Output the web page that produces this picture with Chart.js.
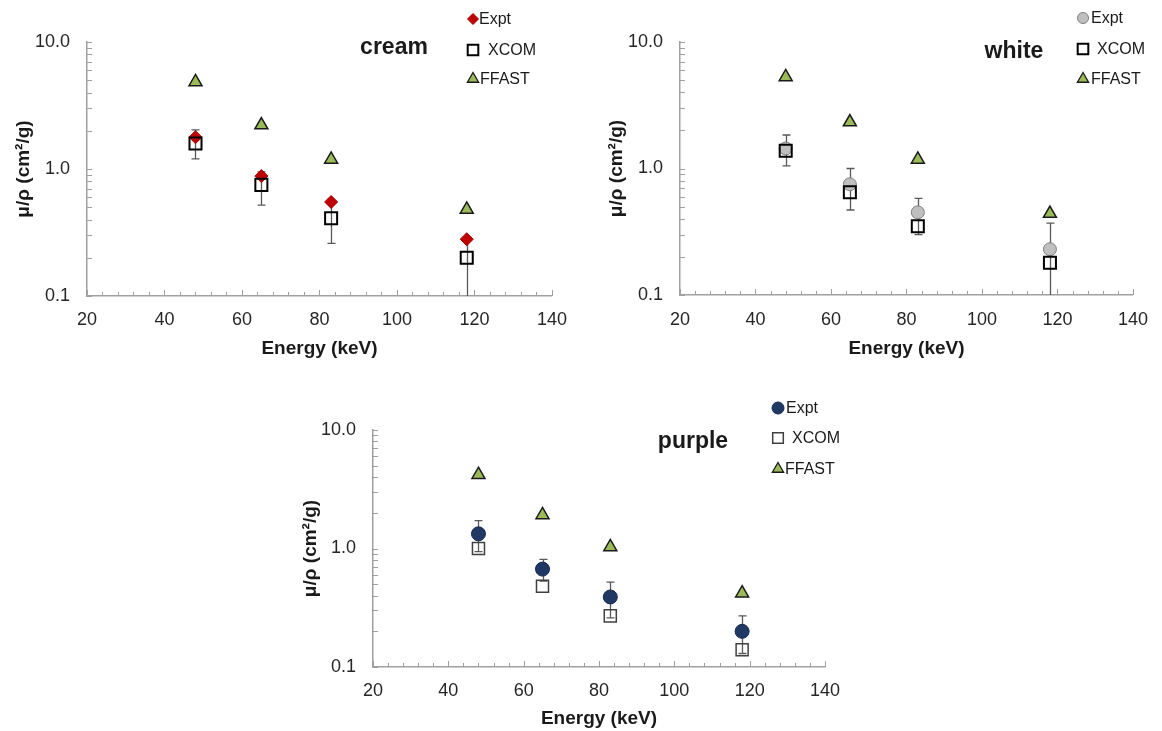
<!DOCTYPE html>
<html>
<head>
<meta charset="utf-8">
<script src="https://cdn.jsdelivr.net/npm/chart.js@4.4.0/dist/chart.umd.min.js"></script>
<style>
body { margin: 0; background: #fff; }
#page { position: relative; width: 1162px; height: 731px; overflow: hidden; }
canvas { position: absolute; }
</style>
</head>
<body>
<div id="page">
  <canvas id="creamChart" width="580" height="370" style="left:0px;top:0px"></canvas>
  <canvas id="whiteChart" width="582" height="370" style="left:580px;top:0px"></canvas>
  <canvas id="purpleChart" width="580" height="356" style="left:290px;top:375px"></canvas>
</div>
<script>
// photon energies (keV), same for the three samples
var energies = [48, 65, 83, 118];
var xTickValues = [20, 40, 60, 80, 100, 120, 140];
var xMinorValues = [24, 28, 32, 36, 44, 48, 52, 56, 64, 68, 72, 76, 84, 88, 92, 96, 104, 108, 112, 116, 124, 128, 132, 136];
var yTickValues = [0.1, 1, 10];
var yMinorValues = [0.2, 0.3, 0.4, 0.5, 0.6, 0.7, 0.8, 0.9, 2, 3, 4, 5, 6, 7, 8, 9];
var seriesNames = ["Expt", "XCOM", "FFAST"];

// cream
var creamExpt = [1.78, 0.88, 0.55, 0.28];
var creamXcom = [1.59, 0.75, 0.41, 0.20];
var creamFfast = [4.85, 2.22, 1.19, 0.48];
var creamErrTop = [2.03, 0.95, 0.56, 0.29];
var creamErrBottom = [1.20, 0.52, 0.26, 0.09];

// white
var whiteExpt = [1.44, 0.75, 0.45, 0.23];
var whiteXcom = [1.38, 0.65, 0.35, 0.18];
var whiteFfast = [5.3, 2.33, 1.18, 0.44];
var whiteErrTop = [1.84, 1.00, 0.58, 0.37];
var whiteErrBottom = [1.05, 0.47, 0.30, 0.09];

// purple
var purpleExpt = [1.33, 0.67, 0.39, 0.20];
var purpleXcom = [1.00, 0.48, 0.27, 0.14];
var purpleFfast = [4.2, 1.92, 1.03, 0.42];
var purpleErrTop = [1.72, 0.81, 0.52, 0.27];
var purpleErrBottom = [0.94, 0.53, 0.26, 0.13];

var fontFamily = "'Liberation Sans', Arial, sans-serif";
Chart.defaults.font.family = fontFamily;

function drawMarker(ctx, style, x, y, r, fill, stroke, lw) {
    ctx.beginPath();
    if (style == "circle") {
        ctx.arc(x, y, r, 0, Math.PI * 2);
    } else if (style == "rect") {
        var s = r * Math.SQRT1_2;
        ctx.rect(x - s, y - s, 2 * s, 2 * s);
    } else if (style == "rectRot") {
        ctx.moveTo(x - r, y);
        ctx.lineTo(x, y - r);
        ctx.lineTo(x + r, y);
        ctx.lineTo(x, y + r);
        ctx.closePath();
    } else {
        ctx.moveTo(x, y - r);
        ctx.lineTo(x + Math.sin(Math.PI * 2 / 3) * r, y + r / 2);
        ctx.lineTo(x - Math.sin(Math.PI * 2 / 3) * r, y + r / 2);
        ctx.closePath();
    }
    ctx.fillStyle = fill;
    ctx.fill();
    if (lw) {
        ctx.lineWidth = lw;
        ctx.strokeStyle = stroke;
        ctx.stroke();
    }
}

function makeChart(canvasId, sample, expt, xcom, ffast, errTop, errBottom, look) {
    var exptPoints = [], xcomPoints = [], ffastPoints = [];
    for (var i = 0; i < energies.length; i++) {
        exptPoints.push({x: energies[i], y: expt[i]});
        xcomPoints.push({x: energies[i], y: xcom[i]});
        ffastPoints.push({x: energies[i], y: ffast[i]});
    }

    var markers = [
        {style: look.exptStyle, r: look.exptLegendR, fill: look.exptFill, stroke: look.exptBorder, lw: 1},
        {style: "rect", r: 7.5, fill: "rgba(255,255,255,0)", stroke: look.xcomBorder, lw: look.xcomWidth},
        {style: "triangle", r: 6.5, fill: "#9bbb59", stroke: "#1a1a1a", lw: 1.3}
    ];

    var extras = {
        id: "extras",
        beforeDatasetsDraw: function (chart) {
            var ctx = chart.ctx;
            var area = chart.chartArea;
            var xs = chart.scales.x, ys = chart.scales.y;
            ctx.save();
            // inner tick marks
            ctx.strokeStyle = "#a0a0a0";
            ctx.lineWidth = 1;
            ctx.beginPath();
            yMinorValues.concat(yTickValues).forEach(function (v) {
                var py = Math.round(ys.getPixelForValue(v)) + 0.5;
                ctx.moveTo(area.left, py);
                ctx.lineTo(area.left + 5, py);
            });
            xMinorValues.forEach(function (v) {
                var px = Math.round(xs.getPixelForValue(v)) + 0.5;
                ctx.moveTo(px, area.bottom);
                ctx.lineTo(px, area.bottom - 4);
            });
            xTickValues.forEach(function (v) {
                var px = Math.round(xs.getPixelForValue(v)) + 0.5;
                ctx.moveTo(px, area.bottom);
                ctx.lineTo(px, area.bottom - 6);
            });
            ctx.stroke();

            // error bars
            ctx.beginPath();
            ctx.rect(area.left, area.top, area.right - area.left, area.bottom - area.top);
            ctx.clip();
            ctx.strokeStyle = "#595959";
            ctx.lineWidth = 1.3;
            ctx.beginPath();
            for (var i = 0; i < energies.length; i++) {
                var px = Math.round(xs.getPixelForValue(energies[i])) + 0.5;
                var top = ys.getPixelForValue(errTop[i]);
                var low = errBottom[i] < ys.min ? area.bottom + 2 : ys.getPixelForValue(errBottom[i]);
                ctx.moveTo(px, top);
                ctx.lineTo(px, low);
                ctx.moveTo(px - 4, top);
                ctx.lineTo(px + 4, top);
                if (errBottom[i] >= ys.min) {
                    ctx.moveTo(px - 4, low);
                    ctx.lineTo(px + 4, low);
                }
            }
            ctx.stroke();
            ctx.restore();
        },
        afterDraw: function (chart) {
            var ctx = chart.ctx;
            ctx.save();
            ctx.fillStyle = "#1a1a1a";
            ctx.font = "bold 23px " + fontFamily;
            ctx.textAlign = "center";
            ctx.textBaseline = "middle";
            ctx.fillText(sample, look.titleX, look.titleY);

            ctx.font = "16px " + fontFamily;
            ctx.textAlign = "left";
            for (var k = 0; k < seriesNames.length; k++) {
                var m = markers[k];
                drawMarker(ctx, m.style, look.legendX, look.legendY[k], m.r, m.fill, m.stroke, m.lw);
                ctx.fillStyle = "#1a1a1a";
                ctx.fillText(seriesNames[k], look.legendTextX[k], look.legendY[k] + 1);
            }
            ctx.restore();
        }
    };

    new Chart(document.getElementById(canvasId), {
        type: "scatter",
        data: {
            datasets: [{
                label: "Expt",
                data: exptPoints,
                pointStyle: look.exptStyle,
                pointRadius: look.exptR,
                backgroundColor: look.exptFill,
                borderColor: look.exptBorder,
                borderWidth: 1,
                order: 1
            }, {
                label: "XCOM",
                data: xcomPoints,
                pointStyle: "rect",
                pointRadius: 8.5,
                backgroundColor: "rgba(255,255,255,0)",
                borderColor: look.xcomBorder,
                borderWidth: look.xcomWidth,
                order: 0
            }, {
                label: "FFAST",
                data: ffastPoints,
                pointStyle: "triangle",
                pointRadius: 7.5,
                backgroundColor: "#9bbb59",
                borderColor: "#1a1a1a",
                borderWidth: 1.5,
                order: 2
            }]
        },
        options: {
            responsive: false,
            animation: false,
            layout: {padding: look.padding},
            plugins: {legend: {display: false}, tooltip: {enabled: false}},
            scales: {
                x: {
                    type: "linear",
                    min: 20,
                    max: 140,
                    afterBuildTicks: function (s) {
                        s.ticks = xTickValues.map(function (v) { return {value: v}; });
                    },
                    afterFit: function (s) { s.height = look.xHeight; },
                    grid: {display: false, drawTicks: false},
                    border: {display: true, color: "#a0a0a0", width: 1.5},
                    ticks: {padding: look.xTickPad, font: {size: 18}, color: "#262626", maxRotation: 0},
                    title: {
                        display: true,
                        text: "Energy (keV)",
                        font: {size: 19, weight: "bold"},
                        color: "#1a1a1a",
                        padding: {top: 0, bottom: look.xTitlePad}
                    }
                },
                y: {
                    type: "logarithmic",
                    min: 0.1,
                    max: 10,
                    afterBuildTicks: function (s) {
                        s.ticks = yTickValues.map(function (v) { return {value: v}; });
                    },
                    afterFit: function (s) { s.width = look.yWidth; },
                    grid: {display: false, drawTicks: false},
                    border: {display: true, color: "#a0a0a0", width: 1.5},
                    ticks: {
                        padding: 17,
                        autoSkip: false,
                        font: {size: 18},
                        color: "#262626",
                        callback: function (v) { return Number(v).toFixed(1); }
                    },
                    title: {
                        display: true,
                        text: "μ/ρ (cm²/g)",
                        font: {size: 19, weight: "bold"},
                        color: "#1a1a1a",
                        padding: {top: look.yTitlePad, bottom: 0}
                    }
                }
            }
        },
        plugins: [extras]
    });
}

makeChart("creamChart", "cream", creamExpt, creamXcom, creamFfast, creamErrTop, creamErrBottom, {
    exptStyle: "rectRot", exptR: 6.5, exptLegendR: 5.5, exptFill: "#c00000", exptBorder: "#a00000",
    xcomBorder: "#000000", xcomWidth: 2,
    padding: {left: 0, top: 42, right: 23, bottom: 0},
    yWidth: 87, xHeight: 74, xTickPad: 13, xTitlePad: 10, yTitlePad: 12,
    titleX: 394, titleY: 48,
    legendX: 473, legendY: [19, 50, 79], legendTextX: [479, 488, 480]
});

makeChart("whiteChart", "white", whiteExpt, whiteXcom, whiteFfast, whiteErrTop, whiteErrBottom, {
    exptStyle: "circle", exptR: 6.5, exptLegendR: 5.5, exptFill: "#bfbfbf", exptBorder: "#7f7f7f",
    xcomBorder: "#000000", xcomWidth: 2,
    padding: {left: 0, top: 42, right: 19, bottom: 0},
    yWidth: 100, xHeight: 75, xTickPad: 14, xTitlePad: 10, yTitlePad: 25,
    titleX: 434, titleY: 52,
    legendX: 503, legendY: [18, 49, 79], legendTextX: [511, 517, 511]
});

makeChart("purpleChart", "purple", purpleExpt, purpleXcom, purpleFfast, purpleErrTop, purpleErrBottom, {
    exptStyle: "circle", exptR: 7, exptLegendR: 6, exptFill: "#1f3864", exptBorder: "#17294a",
    xcomBorder: "#404040", xcomWidth: 1.5,
    padding: {left: 0, top: 55, right: 45, bottom: 0},
    yWidth: 83, xHeight: 64, xTickPad: 13, xTitlePad: 1, yTitlePad: 9,
    titleX: 403, titleY: 67,
    legendX: 488, legendY: [33, 63, 94], legendTextX: [496, 502, 495]
});
</script>
</body>
</html>
